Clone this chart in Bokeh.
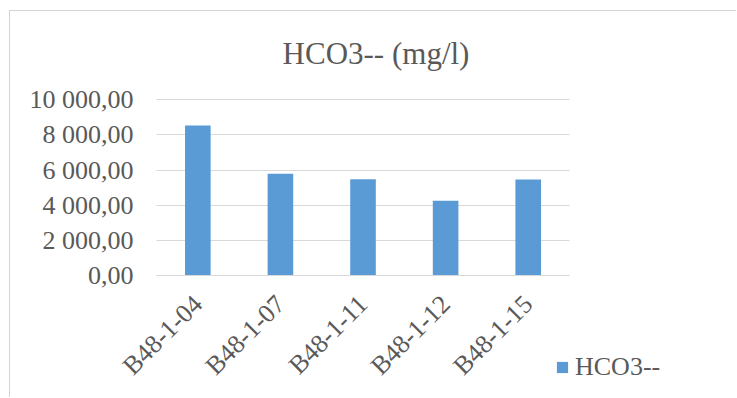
from math import pi
from bokeh.plotting import figure
from bokeh.models import Range1d, FixedTicker, Legend, LegendItem, LinearAxis, Label
from bokeh.embed import file_html
from bokeh.resources import INLINE

categories = ["B48-1-04", "B48-1-07", "B48-1-11", "B48-1-12", "B48-1-15"]
values = [8540, 5800, 5490, 4260, 5470]
y_ticks = [0, 2000, 4000, 6000, 8000, 10000]
y_tick_labels = ["0,00", "2 000,00", "4 000,00", "6 000,00", "8 000,00", "10 000,00"]
title_text = "HCO3-- (mg/l)"
series_name = "HCO3--"

FONT = "Liberation Serif"
TXT = "#595959"
GRID = "#d9d9d9"
BAR = "#5b9bd5"

positions = list(range(len(categories)))
n = len(categories)

W, H = 727, 387
Y0, Y1 = -6972, 15017
units_per_px = (Y1 - Y0) / H

p = figure(
    x_range=Range1d(-2.268, 6.534),
    y_range=Range1d(Y0, Y1),
    width=W, height=H,
    min_border_left=0, min_border_right=0,
    min_border_top=0, min_border_bottom=0,
    output_backend="svg", toolbar_location=None,
    x_axis_location=None,
)
p.styles = {"margin-left": "9px", "margin-top": "10px",
            "border-left": "1px solid #d4d4d4", "border-top": "1px solid #d4d4d4"}
p.outline_line_color = None
p.background_fill_color = "white"
p.border_fill_color = "white"

r = p.vbar(x=positions, top=values, width=0.31, color=BAR, line_color=None)

# title (baseline placed 46 px above the top grid line)
p.add_layout(Label(x=(n - 1) / 2, y=y_ticks[-1] + 46 * units_per_px, text=title_text,
                   x_offset=13,
                   text_align="center", text_baseline="alphabetic",
                   text_font=FONT, text_font_size="31px", text_color=TXT))

# y axis (sits at the left edge of the category area)
p.yaxis.fixed_location = -0.5
p.yaxis.ticker = FixedTicker(ticks=y_ticks)
p.yaxis.major_label_overrides = {t: l for t, l in zip(y_ticks, y_tick_labels)}
p.yaxis.axis_line_color = None
p.yaxis.major_tick_line_color = None
p.yaxis.major_tick_out = 0
p.yaxis.major_tick_in = 0
p.yaxis.minor_tick_line_color = None
p.yaxis.major_label_standoff = 23
p.yaxis.major_label_text_font = FONT
p.yaxis.major_label_text_font_size = "26px"
p.yaxis.major_label_text_color = TXT

# x axis (category axis sitting at y = 0)
xaxis = LinearAxis(ticker=FixedTicker(ticks=positions),
                   major_label_overrides={i: c for i, c in zip(positions, categories)},
                   fixed_location=0, bounds=(-0.5, n - 0.5))
xaxis.axis_line_color = GRID
xaxis.axis_line_width = 1
xaxis.major_tick_line_color = None
xaxis.major_tick_out = 0
xaxis.major_tick_in = 0
xaxis.minor_tick_line_color = None
xaxis.major_label_orientation = pi / 4
xaxis.major_label_standoff = 24
xaxis.major_label_text_font = FONT
xaxis.major_label_text_font_size = "26px"
xaxis.major_label_text_color = TXT
p.add_layout(xaxis, "below")

p.xgrid.grid_line_color = None
p.ygrid.grid_line_color = GRID
p.ygrid.grid_line_width = 1
p.ygrid.bounds = (y_ticks[0], y_ticks[-1])
p.ygrid.cross_bounds = (-0.5, n - 0.5)

# legend
lg = Legend(items=[LegendItem(label=series_name, renderers=[r])])
lg.location = (545, 16)
lg.padding = 0
lg.margin = 0
lg.border_line_color = None
lg.background_fill_alpha = 0
lg.glyph_width = 14
lg.glyph_height = 14
lg.label_standoff = 6
lg.label_height = 30
lg.label_text_font = FONT
lg.label_text_font_size = "26px"
lg.label_text_color = TXT
p.add_layout(lg)

open("out.html", "w").write(file_html(p, INLINE))
